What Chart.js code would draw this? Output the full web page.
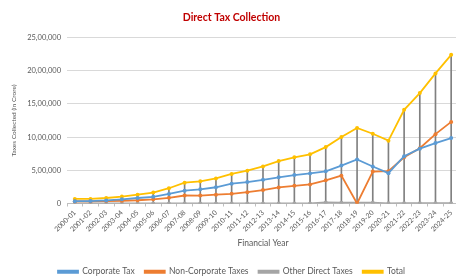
<!DOCTYPE html>
<html>
<head>
<meta charset="utf-8">
<script src="https://cdn.jsdelivr.net/npm/chart.js@4/dist/chart.umd.min.js"></script>
<style>
  html, body { margin: 0; padding: 0; background: #fff; overflow: hidden; }
  #wrap { width: 463px; height: 277px; }
</style>
</head>
<body>
<div id="wrap"><canvas id="tax-chart"></canvas></div>
<script>
// financial years on the x axis
const years = ['2000-01', '2001-02', '2002-03', '2003-04', '2004-05', '2005-06', '2006-07',
  '2007-08', '2008-09', '2009-10', '2010-11', '2011-12', '2012-13', '2013-14', '2014-15',
  '2015-16', '2016-17', '2017-18', '2018-19', '2019-20', '2020-21', '2021-22', '2022-23',
  '2023-24', '2024-25'];

// values in crore
const corporateTax = [35696, 36609, 46172, 63562, 82680, 101277, 144318, 193561, 213395,
  244725, 298688, 322816, 356326, 394677, 428925, 453228, 484924, 571202, 663572, 556876,
  457719, 712037, 825834, 911055, 986000];
const nonCorporateTax = [31764, 32004, 36866, 41386, 49268, 63689, 85623, 120429, 120034,
  132833, 146258, 170181, 201840, 242888, 265772, 287637, 349503, 419884, 0, 480726,
  487560, 696243, 833307, 1045000, 1230000];
const otherTax = [845, 585, 50, 140, 823, 250, 240, 340, 389, 505, 1049, 990, 823, 1031,
  1095, 1080, 15286, 11652, 12642, 13079, 1897, 4142, 4545, 4100, 4000];
const totalTax = [68305, 69198, 83088, 105088, 132771, 165216, 230181, 314330, 333818,
  378063, 445995, 493987, 558989, 638596, 695792, 741945, 849713, 1002738, 1137718,
  1050681, 947176, 1412422, 1663686, 1960166, 2240000];

const yTickValues = [0, 500000, 1000000, 1500000, 2000000, 2500000];
const yTickLabels = ['0', '5,00,000', '10,00,000', '15,00,000', '20,00,000', '25,00,000'];

// high-low lines: from the lowest series to the highest at each year
const highLow = years.map((y, i) => {
  const vals = [corporateTax[i], nonCorporateTax[i], otherTax[i], totalTax[i]];
  return [Math.min(...vals), Math.max(...vals)];
});

const FONT = 'Lato, "Open Sans", sans-serif';
const TEXT = '#595959';

function lineSet(label, data, color) {
  return {
    type: 'line',
    label: label,
    data: data,
    borderColor: color,
    backgroundColor: color,
    borderWidth: 1.8,
    pointRadius: 2,
    pointBorderWidth: 0,
    pointBackgroundColor: color,
    fill: false,
    tension: 0
  };
}

new Chart(document.getElementById('tax-chart'), {
  data: {
    labels: years,
    datasets: [
      lineSet('Corporate Tax', corporateTax, '#5b9bd5'),
      lineSet('Non-Corporate Taxes', nonCorporateTax, '#ed7d31'),
      lineSet('Other Direct Taxes', otherTax, '#a5a5a5'),
      lineSet('Total', totalTax, '#ffc000'),
      {
        type: 'bar',
        label: 'highlow',
        data: highLow,
        backgroundColor: '#808080',
        barThickness: 1,
        order: 10
      }
    ]
  },
  options: {
    responsive: true,
    maintainAspectRatio: false,
    animation: false,
    // legend sits lower than chart.js would put it
    layout: { padding: { top: 0, left: 0, right: 0, bottom: -9 } },
    plugins: {
      title: {
        display: true,
        text: 'Direct Tax Collection',
        color: '#c00000',
        font: { family: FONT, size: 10.5, weight: 'bold' },
        padding: { top: 11, bottom: 14 }
      },
      legend: {
        position: 'bottom',
        labels: {
          filter: item => item.text !== 'highlow',
          boxWidth: 20,
          boxHeight: 2,
          padding: 10,
          color: TEXT,
          font: { family: FONT, size: 8.5 }
        }
      },
      tooltip: { enabled: false }
    },
    scales: {
      x: {
        offset: true,
        grid: { drawOnChartArea: false, drawTicks: true, tickLength: 3, color: '#bfbfbf' },
        border: { color: '#bfbfbf' },
        ticks: {
          color: TEXT,
          font: { family: FONT, size: 7 },
          minRotation: 45,
          maxRotation: 45,
          autoSkip: false,
          padding: 2
        },
        title: {
          display: true,
          text: 'Financial Year',
          color: TEXT,
          font: { family: FONT, size: 8.5 },
          padding: { top: 4, bottom: 9 }
        },
        afterFit: axis => { axis.height = 54; }
      },
      y: {
        min: 0,
        max: 2500000,
        afterBuildTicks: axis => { axis.ticks = yTickValues.map(v => ({ value: v })); },
        afterFit: axis => { axis.width = 67; },
        grid: { color: '#d9d9d9', drawTicks: false },
        border: { display: false },
        ticks: {
          color: TEXT,
          font: { family: FONT, size: 7.5 },
          padding: 6,
          callback: (v) => yTickLabels[yTickValues.indexOf(v)]
        },
        title: {
          display: true,
          text: 'Taxes Collected (in Crore)',
          color: TEXT,
          font: { family: FONT, size: 6.5 },
          padding: { top: 10, bottom: 4 }
        }
      }
    }
  }
});
</script>
</body>
</html>
